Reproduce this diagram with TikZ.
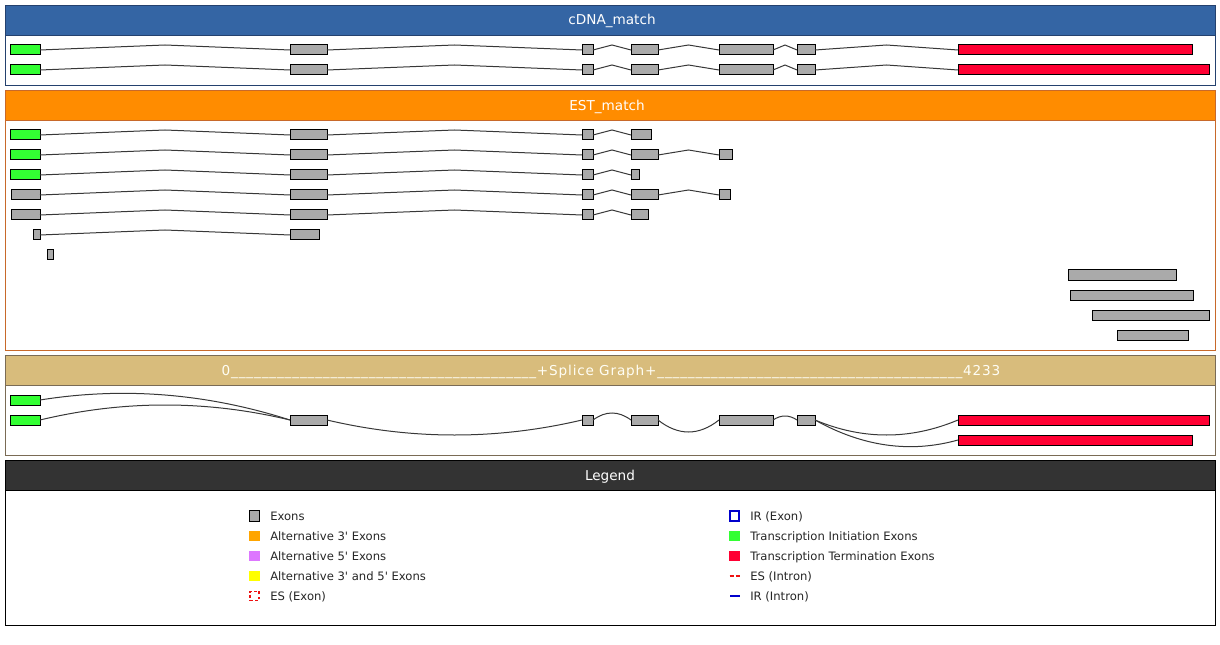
\documentclass[tikz,border=0pt]{standalone}
\usepackage{fontspec}
\setmainfont{DejaVu Sans}
\usetikzlibrary{calc}
\definecolor{hblue}{HTML}{3465A4}
\definecolor{bblue}{HTML}{24416E}
\definecolor{horange}{HTML}{FF8C00}
\definecolor{borange}{HTML}{C8692A}
\definecolor{htan}{HTML}{D8BC7C}
\definecolor{btan}{HTML}{7A6B55}
\definecolor{hdark}{HTML}{333333}
\definecolor{exgray}{HTML}{AAAAAA}
\definecolor{exgreen}{HTML}{33FF33}
\definecolor{exred}{HTML}{FF0033}
\definecolor{intcol}{HTML}{383838}
\definecolor{altthree}{HTML}{FFA500}
\definecolor{altfive}{HTML}{DD77FF}
\definecolor{altboth}{HTML}{FFFF00}
\definecolor{irblue}{HTML}{0000CC}
\definecolor{esred}{HTML}{EE1111}

\newcommand\ex[5]{\node[#5,minimum width={(#3-#2)*0.75pt}] (#1) at ({(#2+#3)/2},#4) {};}
\newcommand\intr[2]{\draw[intron] (#1.east) -- ($(#1.east)!.5!(#2.west)+(0,-5)$) -- (#2.west);}
\newcommand\sarc[4]{\draw[intron] (#1.east) .. controls ($(#1.east)!0.6667!(#3,#4)$) and ($(#2.west)!0.6667!(#3,#4)$) .. (#2.west);}
\newcommand\usx{\_\_\_\_\_\_\_\_\_\_}
\newcommand\apos{\textquotesingle}

\begin{document}
\begin{tikzpicture}[x=0.75pt,y=-0.75pt,
  exon/.style={rectangle,draw=black,line width=0.75pt,fill=exgray,inner sep=0pt,outer sep=0pt,minimum height=7.5pt},
  tie/.style={exon,fill=exgreen},
  tte/.style={exon,fill=exred},
  intron/.style={draw=intcol,line width=0.75pt},
  htitle/.style={anchor=base,inner sep=0pt,text=white,font=\fontsize{10.2pt}{12pt}\selectfont},
  lsq/.style={rectangle,inner sep=0pt,outer sep=0pt,minimum size=7.8pt},
  ltext/.style={anchor=base west,inner sep=0pt,font=\fontsize{8.7pt}{10pt}\selectfont,text=black!85}]
\useasboundingbox (0,0) rectangle (1220,645);
\fill[white] (0,0) rectangle (1220,645);

% panels
\draw[bblue,fill=white] (5.5,5.5) rectangle (1215.5,85.5);
\filldraw[fill=hblue,draw=bblue] (5.5,5.5) rectangle (1215.5,35.5);
\draw[borange,fill=white] (5.5,90.5) rectangle (1215.5,350.5);
\filldraw[fill=horange,draw=borange] (5.5,90.5) rectangle (1215.5,120.5);
\draw[btan,fill=white] (5.5,355.5) rectangle (1215.5,455.5);
\filldraw[fill=htan,draw=btan] (5.5,355.5) rectangle (1215.5,385.5);
\draw[black,fill=white] (5.5,460.5) rectangle (1215.5,625.5);
\filldraw[fill=hdark,draw=black] (5.5,460.5) rectangle (1215.5,490.5);

\node[htitle] (tc) at (612,25) {cDNA\_match};
\node[htitle] (te) at (607,110.5) {EST\_match};
\node[htitle,text=white!96!yellow] (ts) at (611,375) {\addfontfeature{LetterSpace=6.2}0\usx\usx\usx\usx+Splice Graph+\usx\usx\usx\usx4233};
\node[htitle] (tl) at (610,480) {Legend};

% cDNA row 1
\ex{c1a}{10}{40}{50}{tie}
\ex{c1b}{290}{327}{50}{exon}
\ex{c1c}{582}{593}{50}{exon}
\ex{c1d}{631}{658}{50}{exon}
\ex{c1e}{719}{773}{50}{exon}
\ex{c1f}{797}{815}{50}{exon}
\ex{c1g}{958}{1192}{50}{tte}
\intr{c1a}{c1b}\intr{c1b}{c1c}\intr{c1c}{c1d}\intr{c1d}{c1e}\intr{c1e}{c1f}\intr{c1f}{c1g}
% cDNA row 2
\ex{c2a}{10}{40}{70}{tie}
\ex{c2b}{290}{327}{70}{exon}
\ex{c2c}{582}{593}{70}{exon}
\ex{c2d}{631}{658}{70}{exon}
\ex{c2e}{719}{773}{70}{exon}
\ex{c2f}{797}{815}{70}{exon}
\ex{c2g}{958}{1209}{70}{tte}
\intr{c2a}{c2b}\intr{c2b}{c2c}\intr{c2c}{c2d}\intr{c2d}{c2e}\intr{c2e}{c2f}\intr{c2f}{c2g}

% EST rows
\ex{e1a}{10}{40}{135}{tie}
\ex{e1b}{290}{327}{135}{exon}
\ex{e1c}{582}{593}{135}{exon}
\ex{e1d}{631}{651}{135}{exon}
\intr{e1a}{e1b}\intr{e1b}{e1c}\intr{e1c}{e1d}

\ex{e2a}{10}{40}{155}{tie}
\ex{e2b}{290}{327}{155}{exon}
\ex{e2c}{582}{593}{155}{exon}
\ex{e2d}{631}{658}{155}{exon}
\ex{e2e}{719}{732}{155}{exon}
\intr{e2a}{e2b}\intr{e2b}{e2c}\intr{e2c}{e2d}\intr{e2d}{e2e}

\ex{e3a}{10}{40}{175}{tie}
\ex{e3b}{290}{327}{175}{exon}
\ex{e3c}{582}{593}{175}{exon}
\ex{e3d}{631}{639}{175}{exon}
\intr{e3a}{e3b}\intr{e3b}{e3c}\intr{e3c}{e3d}

\ex{e4a}{11}{40}{195}{exon}
\ex{e4b}{290}{327}{195}{exon}
\ex{e4c}{582}{593}{195}{exon}
\ex{e4d}{631}{658}{195}{exon}
\ex{e4e}{719}{730}{195}{exon}
\intr{e4a}{e4b}\intr{e4b}{e4c}\intr{e4c}{e4d}\intr{e4d}{e4e}

\ex{e5a}{11}{40}{215}{exon}
\ex{e5b}{290}{327}{215}{exon}
\ex{e5c}{582}{593}{215}{exon}
\ex{e5d}{631}{648}{215}{exon}
\intr{e5a}{e5b}\intr{e5b}{e5c}\intr{e5c}{e5d}

\ex{e6a}{33}{40}{235}{exon}
\ex{e6b}{290}{319}{235}{exon}
\intr{e6a}{e6b}

\ex{e7a}{47}{53}{255}{exon}
\ex{e8a}{1068}{1176}{275}{exon}
\ex{e9a}{1070}{1193}{295}{exon}
\ex{e10a}{1092}{1209}{315}{exon}
\ex{e11a}{1117}{1188}{335}{exon}

% Splice graph
\ex{sa}{10}{40}{400}{tie}
\ex{sb1}{10}{40}{420}{tie}
\ex{sb2}{290}{327}{420}{exon}
\ex{sb3}{582}{593}{420}{exon}
\ex{sb4}{631}{658}{420}{exon}
\ex{sb5}{719}{773}{420}{exon}
\ex{sb6}{797}{815}{420}{exon}
\ex{sb7}{958}{1209}{420}{tte}
\ex{sc}{958}{1192}{440}{tte}
\sarc{sa}{sb2}{165}{380}
\sarc{sb1}{sb2}{165}{390}
\sarc{sb2}{sb3}{454.5}{450}
\sarc{sb3}{sb4}{612}{406}
\sarc{sb4}{sb5}{688.5}{444}
\sarc{sb5}{sb6}{785}{412}
\sarc{sb6}{sb7}{886.5}{450}
\sarc{sb6}{sc}{886.5}{460}

% Legend column 1
\node[lsq,fill=exgray,draw=black,line width=0.75pt] (l1) at (254.5,516) {};
\node[ltext] (l1t) at (270,520) {Exons};
\node[lsq,fill=altthree] (l2) at (254.5,536) {};
\node[ltext] (l2t) at (270,540) {Alternative 3\apos{} Exons};
\node[lsq,fill=altfive] (l3) at (254.5,556) {};
\node[ltext] (l3t) at (270,560) {Alternative 5\apos{} Exons};
\node[lsq,fill=altboth] (l4) at (254.5,576) {};
\node[ltext] (l4t) at (270,580) {Alternative 3\apos{} and 5\apos{} Exons};
\node[lsq,draw=esred,line width=1.4pt,dash pattern=on 2.2pt off 1.6pt,minimum size=6.8pt] (l5) at (254.5,596) {};
\node[ltext] (l5t) at (270,600) {ES (Exon)};
% Legend column 2
\node[lsq,draw=irblue,line width=1.5pt,minimum size=6.8pt] (l6) at (734.5,516) {};
\node[ltext] (l6t) at (750,520) {IR (Exon)};
\node[lsq,fill=exgreen] (l7) at (734.5,536) {};
\node[ltext] (l7t) at (750,540) {Transcription Initiation Exons};
\node[lsq,fill=exred] (l8) at (734.5,556) {};
\node[ltext] (l8t) at (750,560) {Transcription Termination Exons};
\coordinate (l9a) at (729.5,576);
\coordinate (l9b) at (740,576);
\draw[esred,line width=0.9pt,dash pattern=on 3pt off 1.8pt] (l9a) -- (l9b);
\node[ltext] (l9t) at (750,580) {ES (Intron)};
\coordinate (l10a) at (730,596);
\coordinate (l10b) at (739.5,596);
\draw[irblue,line width=1.1pt] (l10a) -- (l10b);
\node[ltext] (l10t) at (750,600) {IR (Intron)};
\end{tikzpicture}
\end{document}
